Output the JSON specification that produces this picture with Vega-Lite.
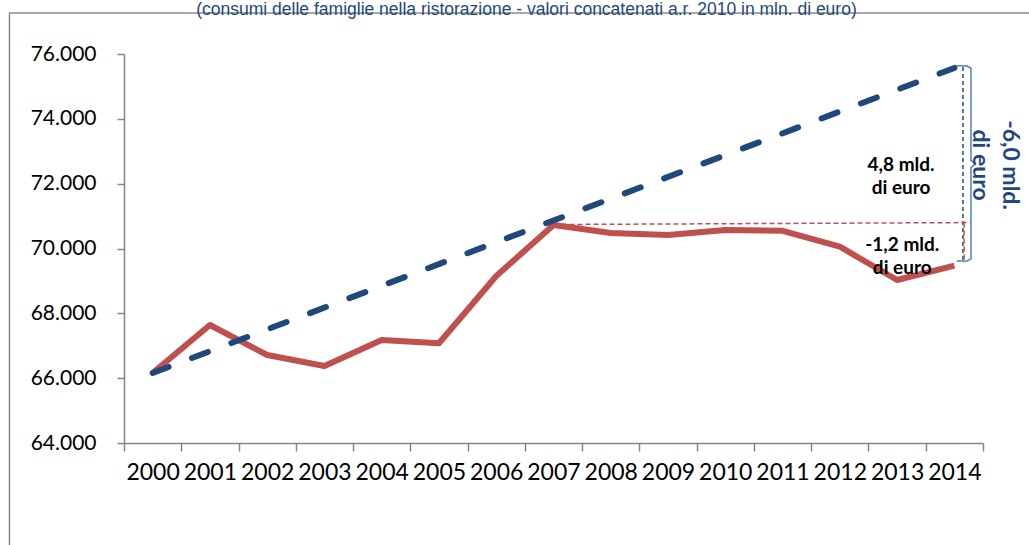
{
  "$schema": "https://vega.github.io/schema/vega-lite/v6.json",
  "width": 859,
  "height": 389,
  "autosize": {"type": "none"},
  "padding": {"left": 124, "top": 54, "right": 46, "bottom": 102},
  "background": "white",
  "config": {"view": {"stroke": null}, "font": "Lato"},
  "title": {
    "text": "(consumi delle famiglie nella ristorazione - valori concatenati a.r. 2010 in mln. di euro)",
    "font": "Liberation Sans",
    "fontSize": 17.5,
    "fontWeight": "normal",
    "color": "#1F497D",
    "anchor": "middle",
    "frame": "group",
    "dx": -27,
    "dy": 20,
    "offset": 0,
    "baseline": "alphabetic"
  },
  "datasets": {
    "consumi": [
      {"anno": 2000, "valore": 66160},
      {"anno": 2001, "valore": 67640},
      {"anno": 2002, "valore": 66715},
      {"anno": 2003, "valore": 66375},
      {"anno": 2004, "valore": 67177},
      {"anno": 2005, "valore": 67075},
      {"anno": 2006, "valore": 69150},
      {"anno": 2007, "valore": 70725},
      {"anno": 2008, "valore": 70478},
      {"anno": 2009, "valore": 70416},
      {"anno": 2010, "valore": 70571},
      {"anno": 2011, "valore": 70545},
      {"anno": 2012, "valore": 70055},
      {"anno": 2013, "valore": 69028},
      {"anno": 2014, "valore": 69470}
    ],
    "trend": [
      {"anno": 2000, "valore": 66160},
      {"anno": 2014, "valore": 75570}
    ],
    "blu": [
      {"anno": 2014.15, "valore": 75600, "anno2": 2014.15, "valore2": 69560}
    ],
    "rossi": [
      {"anno": 2007, "valore": 70740, "anno2": 2014.27, "valore2": 70800},
      {"anno": 2014.17, "valore": 70800, "anno2": 2014.17, "valore2": 69560}
    ],
    "graffa": [
      {"ordine": 1, "anno": 2014.03, "valore": 75640},
      {"ordine": 2, "anno": 2014.22, "valore": 75630},
      {"ordine": 3, "anno": 2014.29, "valore": 75560},
      {"ordine": 4, "anno": 2014.29, "valore": 72720},
      {"ordine": 5, "anno": 2014.36, "valore": 72607},
      {"ordine": 6, "anno": 2014.29, "valore": 72490},
      {"ordine": 7, "anno": 2014.29, "valore": 69680},
      {"ordine": 8, "anno": 2014.22, "valore": 69614},
      {"ordine": 9, "anno": 2014.04, "valore": 69614}
    ],
    "etichette": [
      {"anno": 2013.07, "valore": 72576, "testo": "4,8 mld.\ndi euro"},
      {"anno": 2013.09, "valore": 70108, "testo": "-1,2 mld.\ndi euro"}
    ],
    "totale": [
      {"anno": 2014.98, "valore": 72576, "testo": "-6,0 mld.\ndi euro"}
    ],
    "cornice": [
      {"anno": 1997.5, "anno2": 2016.5, "valore": 77265, "valore2": 60000}
    ]
  },
  "layer": [
    {
      "data": {"name": "cornice"},
      "mark": {"type": "rect", "fill": null, "stroke": "#8c8c8c", "strokeWidth": 1.5},
      "encoding": {
        "x": {"field": "anno", "type": "quantitative", "title": null},
        "x2": {"field": "anno2", "title": null},
        "y": {"field": "valore", "type": "quantitative", "title": null},
        "y2": {"field": "valore2", "title": null}
      }
    },
    {
      "data": {"name": "consumi"},
      "mark": {"type": "line", "color": "#C0504D", "strokeWidth": 6, "strokeJoin": "round"},
      "encoding": {
        "x": {
          "field": "anno",
          "type": "quantitative",
          "title": null,
          "scale": {"domain": [1999.5, 2014.5], "nice": false, "zero": false},
          "axis": {
            "values": [1999.5, 2000.5, 2001.5, 2002.5, 2003.5, 2004.5, 2005.5, 2006.5, 2007.5, 2008.5, 2009.5, 2010.5, 2011.5, 2012.5, 2013.5, 2014.5],
            "grid": false,
            "domainColor": "#868686",
            "domainWidth": 1.5,
            "tickColor": "#868686",
            "tickWidth": 1.5,
            "tickSize": 8,
            "labelExpr": "datum.value < 2014 ? format(datum.value + 0.5, 'd') : ''",
            "labelOffset": 28.6,
            "labelFont": "Lato",
            "labelFontSize": 23,
            "labelColor": "#000000",
            "labelPadding": 10,
            "labelOverlap": false,
            "labelFlush": false,
            "labelBound": false,
            "labelAlign": "center"
          }
        },
        "y": {
          "field": "valore",
          "type": "quantitative",
          "title": null,
          "scale": {"domain": [64000, 76000], "nice": false, "zero": false},
          "axis": {
            "values": [64000, 66000, 68000, 70000, 72000, 74000, 76000],
            "grid": false,
            "domainColor": "#868686",
            "domainWidth": 1.5,
            "tickColor": "#868686",
            "tickWidth": 1.5,
            "tickSize": 7,
            "labelExpr": "replace(format(datum.value, ','), ',', '.')",
            "labelFont": "Lato",
            "labelFontSize": 21,
            "labelColor": "#000000",
            "labelPadding": 21,
            "labelOverlap": false,
            "labelBound": false
          }
        }
      }
    },
    {
      "data": {"name": "trend"},
      "mark": {"type": "line", "color": "#1F497D", "strokeWidth": 6, "strokeDash": [17, 25.1], "strokeCap": "round"},
      "encoding": {
        "x": {"field": "anno", "type": "quantitative", "title": null},
        "y": {"field": "valore", "type": "quantitative", "title": null}
      }
    },
    {
      "data": {"name": "blu"},
      "mark": {"type": "rule", "color": "#1F497D", "strokeWidth": 1.5, "strokeDash": [4, 3]},
      "encoding": {
        "x": {"field": "anno", "type": "quantitative", "title": null},
        "x2": {"field": "anno2", "title": null},
        "y": {"field": "valore", "type": "quantitative", "title": null},
        "y2": {"field": "valore2", "title": null}
      }
    },
    {
      "data": {"name": "rossi"},
      "mark": {"type": "rule", "color": "#C0504D", "strokeWidth": 1.5, "strokeDash": [5, 3]},
      "encoding": {
        "x": {"field": "anno", "type": "quantitative", "title": null},
        "x2": {"field": "anno2", "title": null},
        "y": {"field": "valore", "type": "quantitative", "title": null},
        "y2": {"field": "valore2", "title": null}
      }
    },
    {
      "data": {"name": "graffa"},
      "mark": {"type": "line", "color": "#4F81BD", "strokeWidth": 1.5, "interpolate": "linear"},
      "encoding": {
        "x": {"field": "anno", "type": "quantitative", "title": null},
        "y": {"field": "valore", "type": "quantitative", "title": null},
        "order": {"field": "ordine"}
      }
    },
    {
      "data": {"name": "etichette"},
      "mark": {"type": "text", "font": "Lato", "fontSize": 19, "fontWeight": "bold", "color": "#000000", "lineBreak": "\n", "lineHeight": 23, "align": "center", "baseline": "middle"},
      "encoding": {
        "x": {"field": "anno", "type": "quantitative", "title": null},
        "y": {"field": "valore", "type": "quantitative", "title": null},
        "text": {"field": "testo"}
      }
    },
    {
      "data": {"name": "totale"},
      "mark": {"type": "text", "font": "Lato", "fontSize": 23, "fontWeight": "bold", "color": "#1F497D", "lineBreak": "\n", "lineHeight": 30, "align": "center", "baseline": "middle", "angle": 90},
      "encoding": {
        "x": {"field": "anno", "type": "quantitative", "title": null},
        "y": {"field": "valore", "type": "quantitative", "title": null},
        "text": {"field": "testo"}
      }
    }
  ]
}
